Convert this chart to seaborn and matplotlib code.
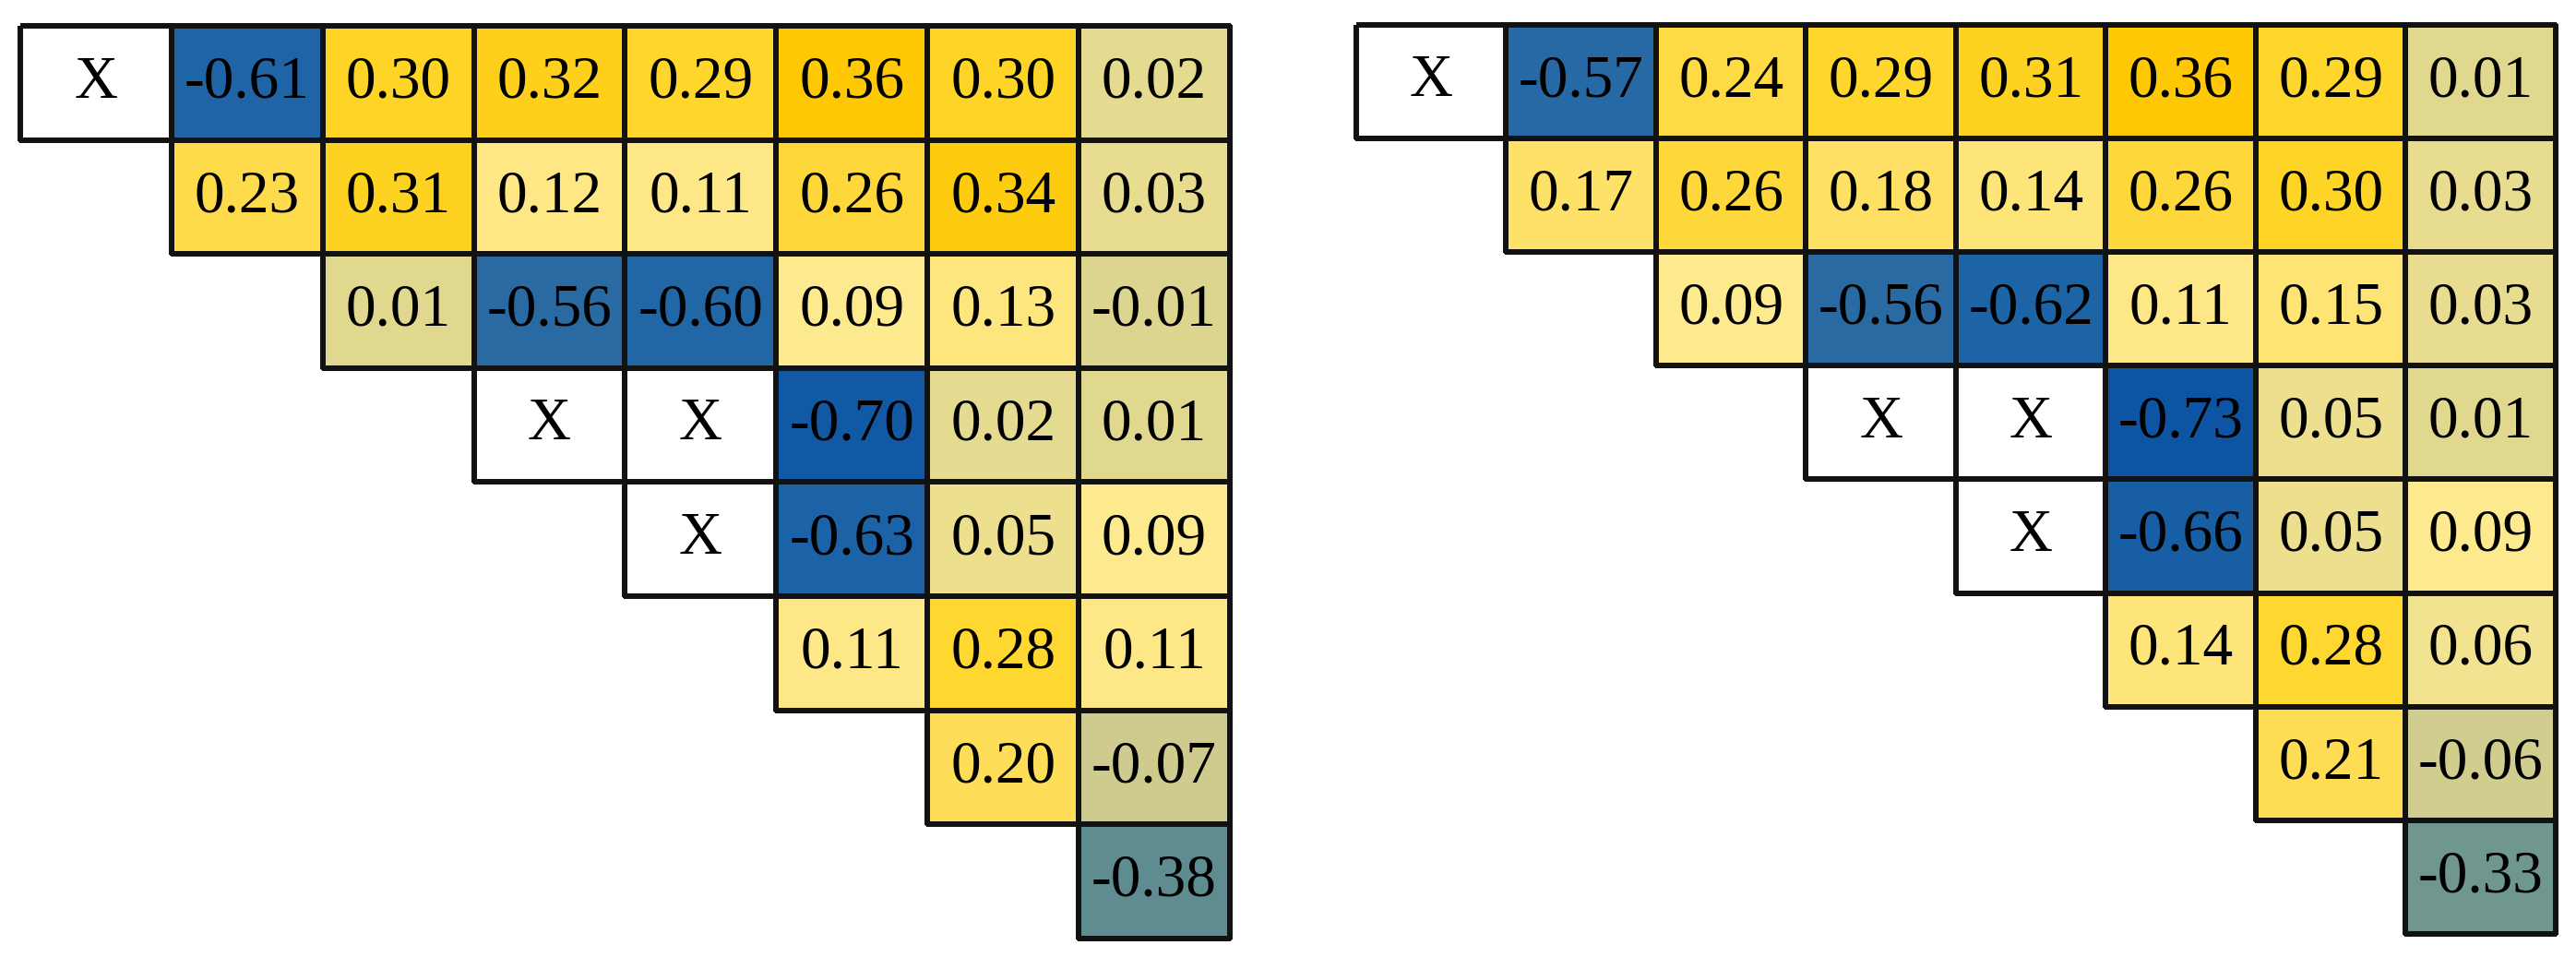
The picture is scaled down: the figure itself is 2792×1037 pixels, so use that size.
import numpy as np
import pandas as pd
import seaborn as sns
import matplotlib
matplotlib.use("Agg")
import matplotlib.pyplot as plt
from matplotlib.colors import LinearSegmentedColormap, ListedColormap

nan = np.nan

# -------------------- data (NaN = "X" cell, lower triangle is empty) --------------------
left_rows = [
    [nan, -0.61, 0.30, 0.32, 0.29, 0.36, 0.30, 0.02],
    [nan, 0.23, 0.31, 0.12, 0.11, 0.26, 0.34, 0.03],
    [nan, nan, 0.01, -0.56, -0.60, 0.09, 0.13, -0.01],
    [nan, nan, nan, nan, nan, -0.70, 0.02, 0.01],
    [nan, nan, nan, nan, nan, -0.63, 0.05, 0.09],
    [nan, nan, nan, nan, nan, 0.11, 0.28, 0.11],
    [nan, nan, nan, nan, nan, nan, 0.20, -0.07],
    [nan, nan, nan, nan, nan, nan, nan, -0.38],
]
right_rows = [
    [nan, -0.57, 0.24, 0.29, 0.31, 0.36, 0.29, 0.01],
    [nan, 0.17, 0.26, 0.18, 0.14, 0.26, 0.30, 0.03],
    [nan, nan, 0.09, -0.56, -0.62, 0.11, 0.15, 0.03],
    [nan, nan, nan, nan, nan, -0.73, 0.05, 0.01],
    [nan, nan, nan, nan, nan, -0.66, 0.05, 0.09],
    [nan, nan, nan, nan, nan, 0.14, 0.28, 0.06],
    [nan, nan, nan, nan, nan, nan, 0.21, -0.06],
    [nan, nan, nan, nan, nan, nan, nan, -0.33],
]
# cells on/above the diagonal shown as "X"
x_cells = [(0, 0), (3, 3), (3, 4), (4, 4)]

# -------------------- colour map --------------------
vmin, vmax = -0.75, 0.37
nodes = [
    (-0.75, "#0a52a3"),
    (-0.62, "#1d64a6"),
    (-0.55, "#2b6ba3"),
    (-0.38, "#5f8c90"),
    (-0.07, "#cfcb8f"),
    (0.00, "#ded690"),
    (0.05, "#ece08f"),
    (0.09, "#fde98e"),
    (0.13, "#fee680"),
    (0.23, "#fedb4a"),
    (0.30, "#fed528"),
    (0.37, "#fec600"),
]
cmap = LinearSegmentedColormap.from_list(
    "corr", [((v - vmin) / (vmax - vmin), c) for v, c in nodes])

plt.rcParams['font.family'] = ['Liberation Serif', 'DejaVu Serif']

fig = plt.figure(figsize=(27.92, 10.37), dpi=100)
ax_left = fig.add_axes([0.0079, 0.0193, 0.4695, 0.9537])
ax_right = fig.add_axes([0.5265, 0.0241, 0.4656, 0.9500])

n = 8
lower = np.tril(np.ones((n, n), dtype=bool), k=-1)
xmask = np.zeros((n, n), dtype=bool)
for r, c in x_cells:
    xmask[r, c] = True


def only_visible_edges(ax):
    # masked quads still get edges in recent matplotlib -> hide them
    mesh = ax.collections[-1]
    hidden = np.ma.getmaskarray(mesh.get_array()).ravel()
    ec = np.zeros((hidden.size, 4))
    ec[:, :3] = 0.07
    ec[:, 3] = np.where(hidden, 0.0, 1.0)
    mesh.set_edgecolor(ec)
    mesh.set_clip_on(False)


def draw(ax, rows):
    df = pd.DataFrame(rows)
    sns.heatmap(df, ax=ax, mask=lower | xmask, cmap=cmap, vmin=vmin, vmax=vmax,
                annot=True, fmt=".2f", cbar=False,
                linewidths=3.0, linecolor="#111111",
                annot_kws={"fontsize": 47, "color": "black"})
    only_visible_edges(ax)
    # white "X" cells
    xs = pd.DataFrame(np.zeros((n, n)))
    xlab = np.full((n, n), "X", dtype=object)
    sns.heatmap(xs, ax=ax, mask=~xmask, cmap=ListedColormap(["white"]),
                annot=xlab, fmt="", cbar=False,
                linewidths=3.0, linecolor="#111111",
                annot_kws={"fontsize": 47, "color": "black"})
    only_visible_edges(ax)
    ax.set_xticks([])
    ax.set_yticks([])
    ax.set_xlabel("")
    ax.set_ylabel("")


draw(ax_left, left_rows)
draw(ax_right, right_rows)

fig.savefig("out.png", dpi=100, facecolor="white")
